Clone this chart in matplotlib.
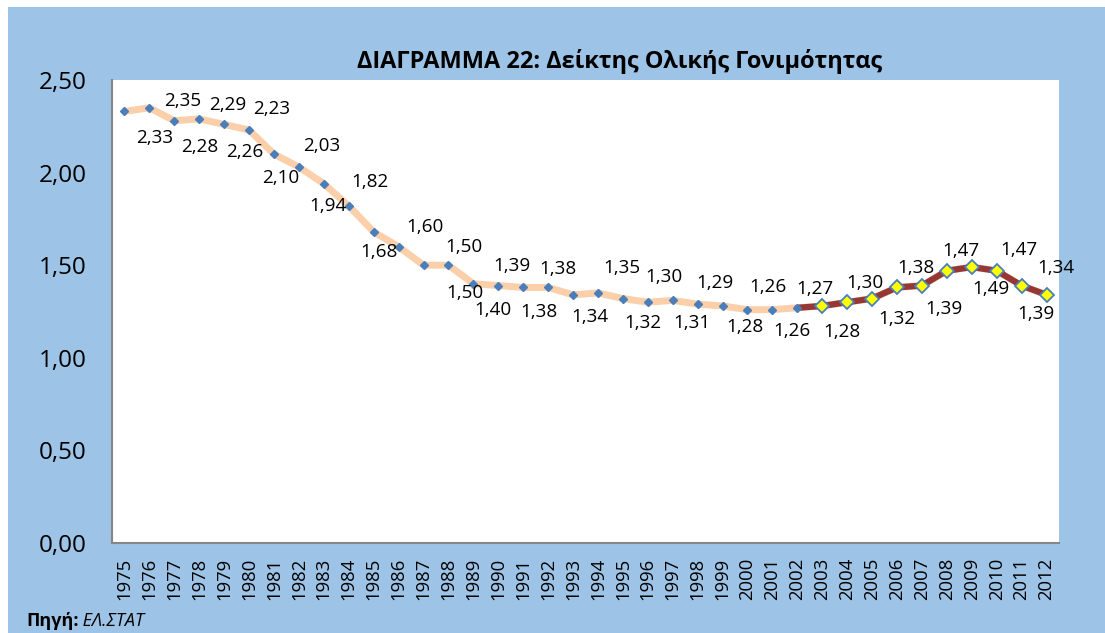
import matplotlib
matplotlib.use("Agg")
import matplotlib.pyplot as plt
from matplotlib.patches import Rectangle
from matplotlib.ticker import FuncFormatter

plt.rcParams['font.family'] = ['Open Sans', 'DejaVu Sans']

years = list(range(1975, 2013))
tfr = [2.33, 2.35, 2.28, 2.29, 2.26, 2.23, 2.10, 2.03, 1.94, 1.82,
       1.68, 1.60, 1.50, 1.50, 1.40, 1.39, 1.38, 1.38, 1.34, 1.35,
       1.32, 1.30, 1.31, 1.29, 1.28, 1.26, 1.26, 1.27, 1.28, 1.30,
       1.32, 1.38, 1.39, 1.47, 1.49, 1.47, 1.39, 1.34]
highlight_start = 2002   # dark red segment begins here
yticks = [0.0, 0.5, 1.0, 1.5, 2.0, 2.5]
title = "ΔΙΑΓΡΑΜΜΑ 22: Δείκτης Ολικής Γονιμότητας"
source_bold = "Πηγή:"
source_italic = " ΕΛ.ΣΤΑΤ"

# label offsets (pixels, x right / y down) relative to each point
label_offsets = [(30, 27), (33, -7), (25, 26), (29, -14), (21, 28), (23, -21),
                 (7, 24), (23, -21), (4, 22), (21, -24), (5, 20), (26, -20),
                 (41, 28), (16, -18), (20, 26), (14, -20), (16, 25), (10, -18),
                 (17, 22), (24, -25), (20, 24), (16, -25), (19, 23), (17, -21),
                 (22, 21), (20, -23), (20, 21), (18, -19), (20, 26), (18, -19),
                 (25, 20), (19, -19), (22, 23), (14, -20), (19, 22), (22, -21),
                 (14, 28), (9, -27)]

W, H = 1105, 633
fig = plt.figure(figsize=(W / 100, H / 100), dpi=100)
fig.patch.set_facecolor('white')
bg = Rectangle((8 / W, 0), 1 - 8 / W, 1 - 7 / H, transform=fig.transFigure,
               facecolor='#9DC3E6', edgecolor='none', zorder=-10)
fig.patches.append(bg)

ax = fig.add_axes([112 / W, (H - 543) / H, (1059 - 112) / W, (543 - 80) / H])
ax.set_facecolor('white')

x = list(range(len(years)))
hs = years.index(highlight_start)

ax.plot(x, tfr, color='#FBCFAA', lw=5, solid_capstyle='round', zorder=2)
ax.plot(x[:hs + 1], tfr[:hs + 1], ls='none', marker='D', ms=4.5,
        mfc='#4A7EBB', mec='#4A7EBB', zorder=4)
ax.plot(x[hs:], tfr[hs:], color='#953735', lw=4.5, solid_capstyle='round', zorder=3)
ax.plot(x[hs + 1:], tfr[hs + 1:], ls='none', marker='D', ms=7,
        mfc='#FFFF00', mec='#4A7EBB', mew=1.3, zorder=5)

for i, v in enumerate(tfr):
    dx, dy = label_offsets[i]
    ax.annotate(f"{v:.2f}".replace('.', ','), (x[i], v), xytext=(dx, -dy),
                textcoords='offset pixels', ha='center', va='center',
                fontsize=13.6, color='black', zorder=6)

ax.set_xlim(-0.5, len(years) - 0.5)
ax.set_ylim(0, 2.5)
ax.set_yticks(yticks)
ax.yaxis.set_major_formatter(FuncFormatter(lambda v, p: f"{v:.2f}".replace('.', ',')))
ax.set_xticks(x)
ax.set_xticklabels([str(y) for y in years], rotation=90, fontsize=13.3)
ax.tick_params(axis='y', length=0, pad=18.5, labelsize=17.5)
ax.tick_params(axis='x', length=0, pad=10.5)
for s in ['top', 'right']:
    ax.spines[s].set_visible(False)
for s in ['left', 'bottom']:
    ax.spines[s].set_color('#868686')
    ax.spines[s].set_linewidth(1.5)

fig.text(620 / W, 1 - 61 / H, title, ha='center', va='center',
         fontsize=16.9, fontweight='bold')
t1 = fig.text(26 / W, 1 - 621 / H, source_bold, ha='left', va='center',
              fontsize=13, fontweight='bold')
fig.canvas.draw()
bb = t1.get_window_extent()
fig.text(bb.x1 / W, 1 - 621 / H, source_italic, ha='left', va='center',
         fontsize=13, style='italic')

fig.savefig('out.png', dpi=100, facecolor=fig.get_facecolor())
